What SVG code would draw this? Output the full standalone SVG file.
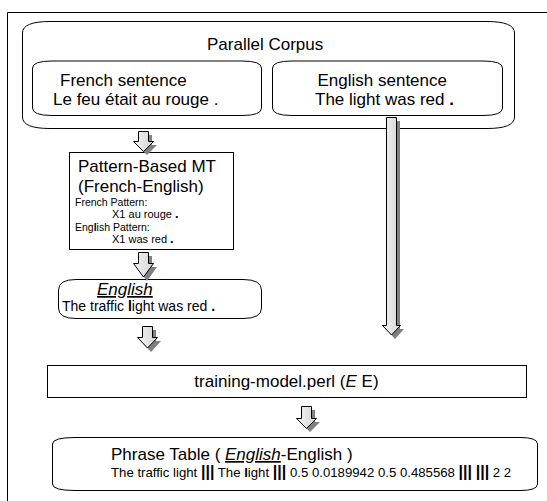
<svg xmlns="http://www.w3.org/2000/svg" width="547" height="501" viewBox="0 0 547 501">
<style>
.shape{fill:#fff;stroke:#000;stroke-width:1}
.t{font-family:"Liberation Sans",Arial,sans-serif;fill:#000}
.big{font-size:17px}
.mid{font-size:14px}
.sm{font-size:10.5px}
.arrow{fill:url(#ag);stroke:#000;stroke-width:1;stroke-linejoin:miter}
.shadow{fill:#808080;stroke:none}
</style>
<defs>
<linearGradient id="ag" x1="0" y1="0" x2="1" y2="0">
<stop offset="0" stop-color="#f4f4f4"/>
<stop offset="1" stop-color="#d4d4d4"/>
</linearGradient>
</defs>
<rect width="547" height="501" fill="#fff"/>
<path d="M7.5,501 L7.5,12.5 L547,12.5" fill="none" stroke="#000" stroke-width="1"/>

<g id="parallel-corpus">
<path class="shape" d="M22.5,33 Q22.5,21.5 50,21.5 L487,21.5 Q514.5,21.5 514.5,33 L514.5,117 Q514.5,128.5 487,128.5 L50,128.5 Q22.5,128.5 22.5,117 Z"/>
<text class="t big" x="207" y="50">Parallel Corpus</text>
</g>
<g id="french-sentence">
<path class="shape" d="M32.5,68 Q32.5,61 52,61 L242,61 Q261.5,61 261.5,68 L261.5,108 Q261.5,115.5 242,115.5 L52,115.5 Q32.5,115.5 32.5,108 Z"/>
<text class="t big" x="60" y="86">French sentence</text>
<text class="t big" x="53" y="105">Le feu était au rouge .</text>
</g>
<g id="english-sentence">
<path class="shape" d="M272.5,68 Q272.5,61 292,61 L483,61 Q502.5,61 502.5,68 L502.5,108 Q502.5,115.5 483,115.5 L292,115.5 Q272.5,115.5 272.5,108 Z"/>
<text class="t big" x="317.5" y="86">English sentence</text>
<text class="t big" x="315" y="105">The light was red <tspan font-weight="bold">.</tspan></text>
</g>
<g id="pattern-mt">
<rect class="shape" x="69.5" y="152.5" width="164" height="97"/>
<text class="t big" x="78" y="172">Pattern-Based MT</text>
<text class="t big" x="78" y="192">(French-English)</text>
<text class="t sm" x="75" y="206">French Pattern:</text>
<text class="t" font-size="11" x="112" y="218">X1 au rouge <tspan font-weight="bold" font-size="13">.</tspan></text>
<text class="t sm" x="75" y="231">Eng<tspan font-weight="bold">l</tspan>ish Pattern:</text>
<text class="t" font-size="11" x="112" y="243">X1 was red <tspan font-weight="bold" font-size="13">.</tspan></text>
</g>
<g id="english-output">
<path class="shape" d="M58.5,290 Q58.5,279.5 76,279.5 L243,279.5 Q261.5,279.5 261.5,290 L261.5,308 Q261.5,318.5 243,318.5 L76,318.5 Q58.5,318.5 58.5,308 Z"/>
<text class="t big" x="97" y="295" font-style="italic" text-decoration="underline">English</text>
<text class="t mid" x="62" y="311">The traffic <tspan font-weight="bold">l</tspan>ight was red <tspan font-weight="bold">.</tspan></text>
</g>
<g id="training-model">
<rect class="shape" x="47.5" y="365.5" width="479" height="32"/>
<text class="t big" x="286.5" y="387" text-anchor="middle">training-model.perl (<tspan font-style="italic">E</tspan> E)</text>
</g>
<g id="phrase-table">
<path class="shape" d="M52.5,444 Q52.5,437.5 75,437.5 L520,437.5 Q537.5,437.5 537.5,444 L537.5,484 Q537.5,490.5 520,490.5 L75,490.5 Q52.5,490.5 52.5,484 Z"/>
<text class="t big" x="111" y="460">Phrase Table ( <tspan font-style="italic" text-decoration="underline">English</tspan>-English )</text>
<text class="t" font-size="13.2" x="111" y="477">The traffic light <tspan font-weight="bold" font-size="16">|||</tspan> The <tspan font-weight="bold">l</tspan>ight <tspan font-weight="bold" font-size="16">|||</tspan> 0.5 0.0189942 0.5 0.485568 <tspan font-weight="bold" font-size="16">|||</tspan> <tspan font-weight="bold" font-size="16">|||</tspan> 2 2</text>
</g>

<g id="connectors">
<g transform="translate(4,4)">
<path class="shadow" d="M138,131 L148,131 L148,141 L153,141 L143,151 L133,141 L138,141 Z"/>
<path class="shadow" d="M138,252 L148,252 L148,263 L153,263 L143,277 L133,263 L138,263 Z"/>
<path class="shadow" d="M142,326 L152,326 L152,337 L157,337 L147,348 L137,337 L142,337 Z"/>
<path class="shadow" d="M301,406 L311,406 L311,418 L316,418 L306,428 L296,418 L301,418 Z"/>
<path class="shadow" d="M386,117 L396,117 L396,325 L400,325 L391,335 L382,325 L386,325 Z"/>
</g>
<path class="arrow" d="M138.5,131.5 L148.5,131.5 L148.5,141.5 L153.5,141.5 L143.5,151.5 L133.5,141.5 L138.5,141.5 Z"/>
<path class="arrow" d="M138.5,252.5 L148.5,252.5 L148.5,263.5 L153.5,263.5 L143.5,277 L133.5,263.5 L138.5,263.5 Z"/>
<path class="arrow" d="M142.5,326.5 L152.5,326.5 L152.5,337.5 L157.5,337.5 L147.5,348 L137.5,337.5 L142.5,337.5 Z"/>
<path class="arrow" d="M301.5,406.5 L311.5,406.5 L311.5,418.5 L316.5,418.5 L306.5,428.5 L296.5,418.5 L301.5,418.5 Z"/>
<path class="arrow" d="M386.5,117.5 L396.5,117.5 L396.5,325.5 L400.5,325.5 L391.5,335 L382.5,325.5 L386.5,325.5 Z"/>
</g>
</svg>
